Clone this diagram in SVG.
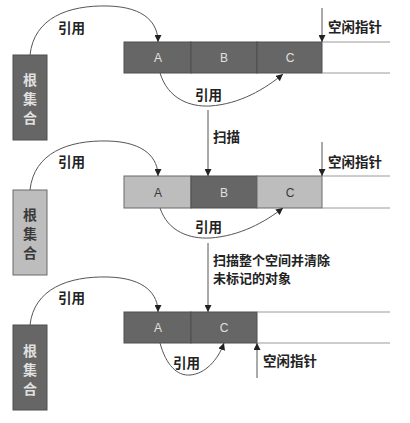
<svg xmlns="http://www.w3.org/2000/svg" width="410" height="423" viewBox="0 0 410 423">
<style>
.bg{fill:#fff}
.dark{fill:#666;stroke:#4e4e4e;stroke-width:1}
.light{fill:#bdbdbd;stroke:#6a6a6a;stroke-width:1}
.conn{fill:none;stroke:#555;stroke-width:1}
.ext{fill:none;stroke:#9a9a9a;stroke-width:1}
.lbl{font-family:"Noto Sans CJK SC","Liberation Sans",sans-serif;font-size:13.5px;font-weight:bold;fill:#222}
.lbl2{font-family:"Noto Sans CJK SC","Liberation Sans",sans-serif;font-size:13px;font-weight:bold;fill:#222}
.cellt{font-family:"Liberation Sans","Noto Sans",sans-serif;font-size:12px;text-anchor:middle}
.onDark{fill:#e0e0e0}
.onLight{fill:#3a3a3a}
.root{font-family:"Noto Sans CJK SC",sans-serif;font-size:14px;font-weight:bold;text-anchor:middle}
</style>
<defs>
<marker id="ah" viewBox="0 0 10 10" refX="10" refY="5" markerWidth="7" markerHeight="7" markerUnits="userSpaceOnUse" orient="auto">
<path d="M0,0 L10,5 L0,10 z" fill="#222"/>
</marker>
</defs>
<rect class="bg" x="0" y="0" width="410" height="423"/>

<!-- Panel 1 -->
<g id="root1">
<rect class="dark" x="13" y="55" width="34" height="85"/>
<text class="root onDark" x="30" y="85">根</text>
<text class="root onDark" x="30" y="104">集</text>
<text class="root onDark" x="30" y="123">合</text>
</g>
<g id="mem1">
<rect class="dark" x="124" y="42" width="67" height="31"/>
<rect class="dark" x="191" y="42" width="66" height="31"/>
<rect class="dark" x="257" y="42" width="65" height="31"/>
<text class="cellt onDark" x="158" y="62">A</text>
<text class="cellt onDark" x="224" y="62">B</text>
<text class="cellt onDark" x="290" y="62">C</text>
</g>

<!-- Panel 2 -->
<g id="root2">
<rect class="light" x="13" y="190" width="34" height="85"/>
<text class="root onLight" x="30" y="220">根</text>
<text class="root onLight" x="30" y="239">集</text>
<text class="root onLight" x="30" y="258">合</text>
</g>
<g id="mem2">
<rect class="light" x="124" y="176" width="67" height="32"/>
<rect class="dark" x="191" y="176" width="66" height="32"/>
<rect class="light" x="257" y="176" width="65" height="32"/>
<text class="cellt onLight" x="158" y="197">A</text>
<text class="cellt onDark" x="224" y="197">B</text>
<text class="cellt onLight" x="290" y="197">C</text>
</g>

<!-- Panel 3 -->
<g id="root3">
<rect class="dark" x="13" y="325" width="34" height="85"/>
<text class="root onDark" x="30" y="356">根</text>
<text class="root onDark" x="30" y="375">集</text>
<text class="root onDark" x="30" y="394">合</text>
</g>
<g id="mem3">
<rect class="dark" x="124" y="312" width="67" height="31"/>
<rect class="dark" x="191" y="312" width="66" height="31"/>
<text class="cellt onDark" x="158" y="332">A</text>
<text class="cellt onDark" x="224" y="332">C</text>
</g>

<g id="connectors">
<path class="ext" d="M322,42 H390 M322,73 H390"/>
<path class="ext" d="M322,176 H390 M322,208 H390"/>
<path class="ext" d="M257,312 H390 M257,343 H390"/>
<path class="conn" marker-end="url(#ah)" d="M30,55 C34,18 68,5 108,6 C146,7 158,24 158,42"/>
<path class="conn" marker-end="url(#ah)" d="M160,73 C168,99 190,107 210,106 C240,104 265,89 283,74"/>
<path class="conn" marker-end="url(#ah)" d="M322,8 V42"/>
<path class="conn" marker-end="url(#ah)" d="M208,110 V176"/>
<path class="conn" marker-end="url(#ah)" d="M30,190 C34,153 68,140 108,141 C146,142 158,159 158,176"/>
<path class="conn" marker-end="url(#ah)" d="M160,208 C168,232 190,239 210,238 C240,236 265,222 283,208"/>
<path class="conn" marker-end="url(#ah)" d="M322,142 V176"/>
<path class="conn" marker-end="url(#ah)" d="M208,243 V312"/>
<path class="conn" marker-end="url(#ah)" d="M30,325 C34,289 68,276 108,277 C146,278 158,295 158,312"/>
<path class="conn" marker-end="url(#ah)" d="M160,343 C166,365 177,376 190,375 C205,374 218,360 224,343"/>
<path class="conn" marker-end="url(#ah)" d="M257,378 V343"/>
</g>

<g id="labels">
<text class="lbl" x="58" y="33">引用</text>
<text class="lbl" x="195" y="100">引用</text>
<text class="lbl" x="328" y="32">空闲指针</text>
<text class="lbl" x="213" y="142">扫描</text>
<text class="lbl" x="58" y="167">引用</text>
<text class="lbl" x="195" y="232">引用</text>
<text class="lbl" x="328" y="167">空闲指针</text>
<text class="lbl2" x="213" y="265"><tspan x="213">扫描整个空间并清除</tspan><tspan x="213" dy="18">未标记的对象</tspan></text>
<text class="lbl" x="58" y="303">引用</text>
<text class="lbl" x="173" y="368">引用</text>
<text class="lbl" x="263" y="366">空闲指针</text>
</g>
</svg>
